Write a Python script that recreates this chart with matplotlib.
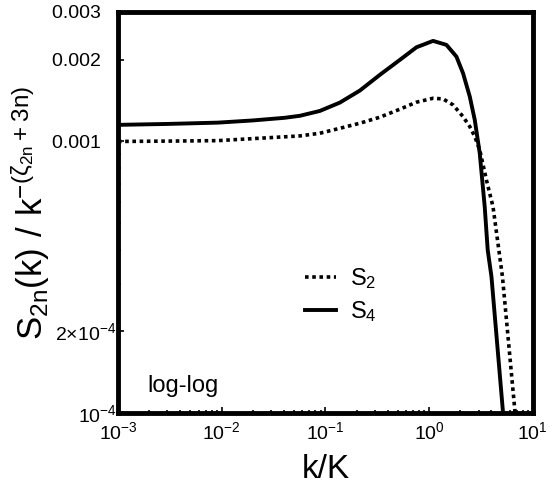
import matplotlib
matplotlib.use("Agg")
import matplotlib.pyplot as plt
from matplotlib.ticker import FixedLocator, FixedFormatter, LogLocator, NullFormatter

plt.rcParams["font.family"] = ["Liberation Sans", "DejaVu Sans"]
plt.rcParams["mathtext.default"] = "regular"

# values
k_s4 = [1e-3, 3e-3, 0.0092, 0.02, 0.0405, 0.0568, 0.0885, 0.138, 0.215, 0.335, 0.522,
        0.757, 1.094, 1.472, 1.837, 2.128, 2.472, 2.761, 3.083, 3.443, 3.681, 4.0,
        5.176, 5.3]
s4 = [1.151e-3, 1.16e-3, 1.173e-3, 1.195e-3, 1.222e-3, 1.243e-3, 1.295e-3, 1.39e-3,
      1.539e-3, 1.758e-3, 1.995e-3, 2.222e-3, 2.345e-3, 2.267e-3, 2.053e-3, 1.783e-3,
      1.462e-3, 1.2e-3, 9.05e-4, 5.75e-4, 3.98e-4, 3.18e-4, 1.0e-4, 9.0e-5]

k_s2 = [1e-3, 3e-3, 0.0092, 0.0568, 0.0885, 0.138, 0.215, 0.335, 0.522, 0.757,
        1.094, 1.365, 1.706, 2.128, 2.472, 2.761, 3.083, 3.581, 4.14, 5.105, 6.714, 7.0]
s2 = [1.0e-3, 1.003e-3, 1.007e-3, 1.048e-3, 1.072e-3, 1.118e-3, 1.167e-3, 1.228e-3,
      1.314e-3, 1.395e-3, 1.442e-3, 1.434e-3, 1.363e-3, 1.234e-3, 1.134e-3, 1.042e-3,
      9.31e-4, 7.2e-4, 5.75e-4, 3.18e-4, 1.03e-4, 9.0e-5]

y_ticks = [1e-4, 2e-4, 1e-3, 2e-3, 3e-3]
y_labels = ["$10^{-4}$", r"$2{\times}10^{-4}$", "0.001   ", "0.002   ", "0.003   "]

fig = plt.figure(figsize=(5.59, 4.93), dpi=100)
ax = fig.add_axes([0.211, 0.162, 0.742, 0.814])

ax.plot(k_s2, s2, color="black", linestyle=(0, (1, 1)), linewidth=2.6, label="$S_2$")
ax.plot(k_s4, s4, color="black", linestyle="-", linewidth=2.8, label="$S_4$")

ax.set_xscale("log")
ax.set_yscale("log")
ax.set_xlim(1e-3, 1e1)
ax.set_ylim(1e-4, 3e-3)

ax.yaxis.set_major_locator(FixedLocator(y_ticks))
ax.yaxis.set_major_formatter(FixedFormatter(y_labels))
ax.yaxis.set_minor_locator(LogLocator(base=10, subs=range(2, 10)))
ax.yaxis.set_minor_formatter(NullFormatter())
ax.xaxis.set_major_locator(LogLocator(base=10, numticks=10))
ax.xaxis.set_minor_locator(LogLocator(base=10, subs=range(2, 10), numticks=10))
ax.xaxis.set_minor_formatter(NullFormatter())

ax.tick_params(which="both", direction="in", width=1.2, labelsize=14)
ax.tick_params(which="major", length=4)
ax.tick_params(which="minor", length=2)
ax.tick_params(axis="x", pad=6)
ax.tick_params(axis="y", pad=1)
for s in ax.spines.values():
    s.set_linewidth(3.5)

ax.set_xlabel("k/K", fontsize=24, labelpad=8)
ax.set_ylabel(r"$S_{2n}(k)\ /\ k^{-(\zeta_{2n}+3n)}$", fontsize=25, labelpad=0)

ax.text(0.07, 0.067, "log-log", transform=ax.transAxes, fontsize=17, va="center")
ax.legend(loc="upper left", bbox_to_anchor=(0.4, 0.42), frameon=False, fontsize=17,
          handlelength=1.3, handletextpad=0.6, labelspacing=0.35)

fig.savefig("out.png", dpi=100)
